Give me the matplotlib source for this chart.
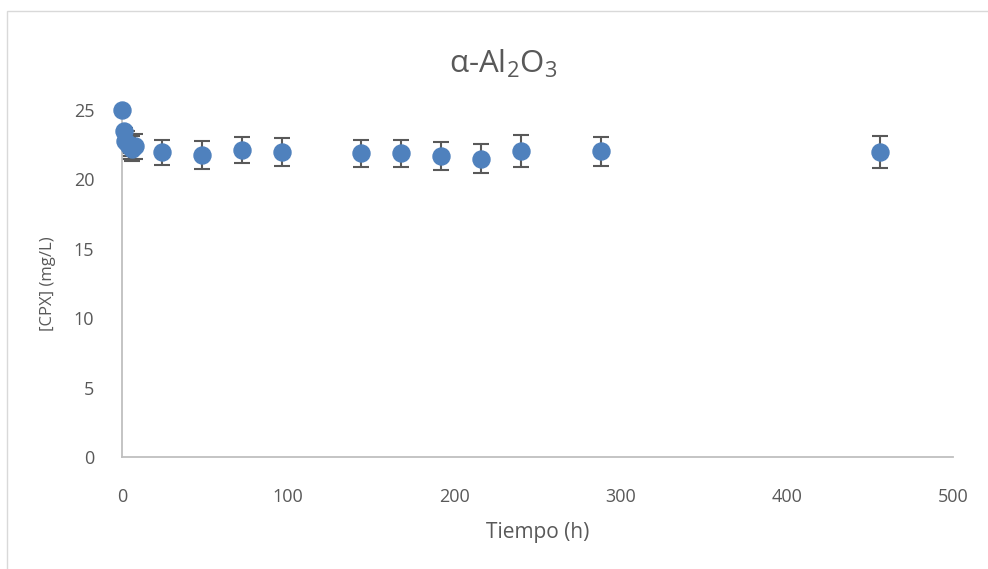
import matplotlib
matplotlib.use("Agg")
import matplotlib.pyplot as plt
from matplotlib.patches import Rectangle

plt.rcParams['font.family'] = ['Open Sans', 'DejaVu Sans']
plt.rcParams['mathtext.fontset'] = 'custom'
plt.rcParams['mathtext.rm'] = 'Open Sans'
plt.rcParams['mathtext.it'] = 'Open Sans'

tiempo = [0, 1, 2, 3, 4, 6, 8, 24, 48, 72, 96, 144, 168, 192, 216, 240, 288, 456]
cpx = [25.0, 23.5, 22.8, 22.6, 22.4, 22.2, 22.4, 21.95, 21.75, 22.1, 21.98, 21.87, 21.87, 21.7, 21.5, 22.05, 22.02, 21.97]
err = [0.0, 0.3, 0.9, 0.9, 0.9, 0.9, 0.9, 0.9, 1.0, 0.95, 1.0, 0.95, 0.97, 1.0, 1.05, 1.15, 1.05, 1.15]

xticks = [0, 100, 200, 300, 400, 500]
yticks = [0, 5, 10, 15, 20, 25]

W, H = 988, 569
fig = plt.figure(figsize=(W / 100, H / 100), dpi=100)
fig.patches.append(Rectangle((7 / W, -0.1), 1.2, 1 - 11 / H + 0.1, transform=fig.transFigure,
                             fill=False, edgecolor='#D9D9D9', linewidth=1.0))
ax = fig.add_axes([122 / W, 1 - 457 / H, (953 - 122) / W, (457 - 110) / H])

ax.errorbar(tiempo, cpx, yerr=err, fmt='none', ecolor='#595959', elinewidth=1.5,
            capsize=6, capthick=1.5, zorder=2)
ax.scatter(tiempo, cpx, s=150, color='#4F81BD', edgecolors='#4F81BD', zorder=3, clip_on=False)

ax.set_xlim(0, 500)
ax.set_ylim(0, 25)
ax.set_xticks(xticks)
ax.set_yticks(yticks)
ax.tick_params(length=0, labelsize=13, colors='#595959')
ax.tick_params(axis='x', pad=22)
ax.tick_params(axis='y', pad=20)
for s in ['top', 'right']:
    ax.spines[s].set_visible(False)
for s in ['left', 'bottom']:
    ax.spines[s].set_color('#BFBFBF')
    ax.spines[s].set_linewidth(1.3)

ax.set_xlabel('Tiempo (h)', fontsize=15, color='#595959', labelpad=12)
ax.set_ylabel('[CPX] (mg/L)', fontsize=12, color='#595959', labelpad=13)
fig.text(503 / W, 1 - 64 / H, r'α-Al$_2$O$_3$', fontsize=22.5, color='#595959',
         ha='center', va='center')

fig.savefig('out.png', dpi=100)
